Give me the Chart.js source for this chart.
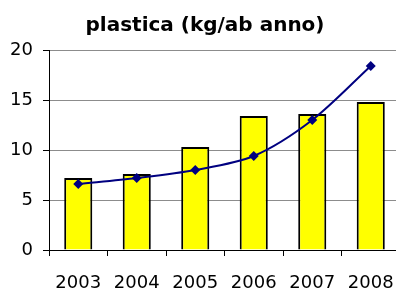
<!DOCTYPE html>
<html>
<head>
<meta charset="utf-8">
<script src="https://cdn.jsdelivr.net/npm/chart.js@4/dist/chart.umd.min.js"></script>
<style>
  html, body { margin: 0; padding: 0; background: #fff; overflow: hidden; }
  canvas { display: block; }
</style>
</head>
<body>
<canvas id="chart" width="400" height="288"></canvas>
<script>
// --- Data ---
const years = ['2003', '2004', '2005', '2006', '2007', '2008'];
const barValues = [7.2, 7.6, 10.3, 13.4, 13.6, 14.8];
const lineValues = [6.6, 7.2, 8.0, 9.4, 13.0, 18.4];
const yTicks = [0, 5, 10, 15, 20];

Chart.defaults.font.family = "'DejaVu Sans', sans-serif";
Chart.defaults.color = '#000';

const ctx = document.getElementById('chart').getContext('2d');

new Chart(ctx, {
  type: 'bar',
  data: {
    labels: years,
    datasets: [
      {
        type: 'line',
        label: 'trend',
        data: lineValues,
        borderColor: '#000080',
        backgroundColor: '#000080',
        borderWidth: 2,
        tension: 0.3,
        pointStyle: 'rectRot',
        pointRadius: 5,
        pointBorderWidth: 0,
        fill: false,
        order: 0
      },
      {
        label: 'plastica',
        data: barValues,
        backgroundColor: '#ffff00',
        borderColor: '#000',
        borderWidth: 2,
        barPercentage: 0.48,
        categoryPercentage: 1,
        order: 1
      }
    ]
  },
  options: {
    responsive: false,
    animation: false,
    layout: { autoPadding: false, padding: { top: 14, left: 10, right: 0, bottom: 0 } },
    plugins: {
      legend: { display: false },
      tooltip: { enabled: false },
      title: {
        display: true,
        text: 'plastica (kg/ab anno)',
        color: '#000',
        font: { size: 20, weight: 'bold' },
        padding: { top: 0, bottom: 12 }
      }
    },
    scales: {
      x: {
        offset: true,
        grid: { display: true, drawOnChartArea: false, color: '#000', tickLength: 6, offset: true },
        border: { color: '#000', width: 1 },
        ticks: { font: { size: 18 }, padding: 17, maxRotation: 0 },
        afterFit: (axis) => { axis.height = 38; axis.paddingLeft = 0; axis.paddingRight = 0; }
      },
      y: {
        min: 0,
        max: 20,
        afterBuildTicks: (axis) => { axis.ticks = yTicks.map(v => ({ value: v })); },
        grid: { color: '#8c8c8c', tickColor: '#000', tickLength: 6, lineWidth: 1 },
        border: { color: '#000', width: 1 },
        ticks: { font: { size: 18 }, padding: 10 },
        afterFit: (axis) => { axis.width = 39; }
      }
    }
  }
});
</script>
</body>
</html>
